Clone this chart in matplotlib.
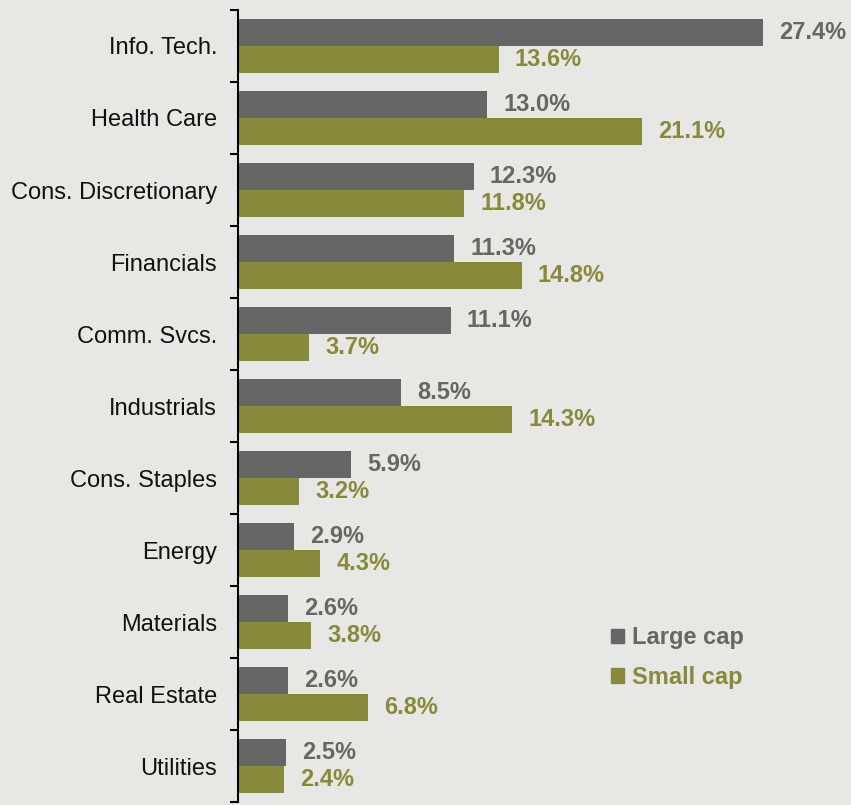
import numpy as np
import matplotlib.pyplot as plt
from matplotlib.patches import Patch

plt.rcParams['font.family'] = ['Liberation Sans', 'DejaVu Sans']

# sector weights (%)
sectors = ['Info. Tech.', 'Health Care', 'Cons. Discretionary', 'Financials',
           'Comm. Svcs.', 'Industrials', 'Cons. Staples', 'Energy',
           'Materials', 'Real Estate', 'Utilities']
large_cap = [27.4, 13.0, 12.3, 11.3, 11.1, 8.5, 5.9, 2.9, 2.6, 2.6, 2.5]
small_cap = [13.6, 21.1, 11.8, 14.8, 3.7, 14.3, 3.2, 4.3, 3.8, 6.8, 2.4]

bg = '#e7e7e5'
gray = '#666666'
olive = '#868a3a'

fig = plt.figure(figsize=(8.51, 8.05), dpi=100, facecolor=bg)
ax = fig.add_axes([238 / 851, 3 / 805, 613 / 851, 792 / 805], facecolor=bg)

y = np.arange(len(sectors))
h = 0.375
b1 = ax.barh(y - h / 2, large_cap, height=h, color=gray, label='Large cap')
b2 = ax.barh(y + h / 2, small_cap, height=h, color=olive, label='Small cap')

for yi, v in zip(y, large_cap):
    ax.text(v + 0.85, yi - h / 2, f'{v:.1f}%', va='center', ha='left',
            fontsize=17, fontweight='bold', color=gray)
for yi, v in zip(y, small_cap):
    ax.text(v + 0.85, yi + h / 2, f'{v:.1f}%', va='center', ha='left',
            fontsize=17, fontweight='bold', color=olive)

ax.set_xlim(0, 32)
ax.set_ylim(len(sectors) - 0.5, -0.5)
ax.set_xticks([])
ax.set_yticks(y)
ax.set_yticklabels(sectors, fontsize=17, color='#111111')
ax.tick_params(axis='y', which='major', length=0, pad=15)
ax.set_yticks(np.arange(len(sectors) + 1) - 0.5, minor=True)
ax.tick_params(axis='y', which='minor', length=6, width=1.5, direction='out')

for s in ['top', 'right', 'bottom']:
    ax.spines[s].set_visible(False)
ax.spines['left'].set_linewidth(1.5)

handles = [Patch(color=gray), Patch(color=olive)]
ax.legend(handles, ['Large cap', 'Small cap'], loc='upper left',
          bbox_to_anchor=(352 / 613, 1 - 595 / 792), frameon=False,
          prop={'size': 17, 'weight': 'bold'}, labelcolor=[gray, olive],
          handlelength=0.55, handleheight=0.55, handletextpad=0.35,
          labelspacing=0.7)

fig.savefig('out.png', dpi=100, facecolor=bg)
